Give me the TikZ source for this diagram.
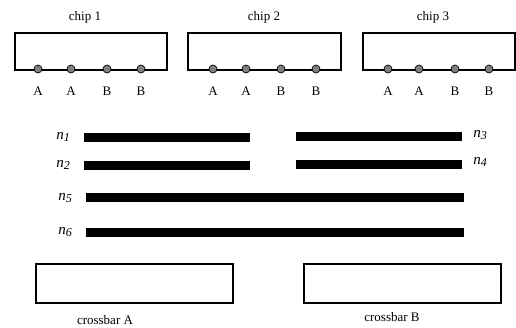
\documentclass[tikz,border=0pt]{standalone}
\usepackage{fontspec}
\setmainfont{Liberation Serif}
\begin{document}
\begin{tikzpicture}[x=1pt,y=-1pt,
  box/.style={draw=black,line width=2pt,inner sep=0pt,anchor=north west},
  pin/.style={circle,draw=black,line width=0.7pt,fill=gray,minimum size=8pt,inner sep=0pt},
  lbl/.style={font=\fontsize{13}{15}\selectfont,inner sep=0pt},
  bar/.style={fill=black,inner sep=0pt,minimum height=9pt,anchor=west},
  nlbl/.style={font=\fontsize{15}{17}\selectfont\itshape,inner sep=0pt}]
\useasboundingbox (0,0) rectangle (516,328);
% chips
\node[box,minimum width=152pt,minimum height=37pt] (c1) at (14,32) {};
\node[box,minimum width=153pt,minimum height=37pt] (c2) at (187,32) {};
\node[box,minimum width=152pt,minimum height=37pt] (c3) at (362,32) {};
\node[lbl] (t1) at (85,17) {chip 1};
\node[lbl] (t2) at (264,17) {chip 2};
\node[lbl] (t3) at (433,17) {chip 3};
% pins
\foreach \n/\x/\l in {p11/38/A,p12/71/A,p13/107/B,p14/141/B,
                      p21/213/A,p22/246/A,p23/281/B,p24/316/B,
                      p31/388/A,p32/419/A,p33/455/B,p34/489/B}{
  \node[pin] (\n) at (\x,69) {};
  \node[lbl] (\n l) at (\x,91) {\l};
}
% nets
\node[bar,minimum width=166pt] (n1) at (84,137.5) {};
\node[bar,minimum width=166pt] (n2) at (84,165.5) {};
\node[bar,minimum width=166pt] (n3) at (296,137) {};
\node[bar,minimum width=166pt] (n4) at (296,165) {};
\node[bar,minimum width=378pt] (n5) at (86,197.5) {};
\node[bar,minimum width=378pt] (n6) at (86,232.5) {};
\node[nlbl] (l1) at (63,137) {n\raisebox{-0.35ex}{\fontsize{12}{13}\selectfont 1}};
\node[nlbl] (l2) at (63,165) {n\raisebox{-0.35ex}{\fontsize{12}{13}\selectfont 2}};
\node[nlbl] (l5) at (65,198) {n\raisebox{-0.35ex}{\fontsize{12}{13}\selectfont 5}};
\node[nlbl] (l6) at (65,232) {n\raisebox{-0.35ex}{\fontsize{12}{13}\selectfont 6}};
\node[nlbl] (l3) at (480,135) {n\raisebox{-0.35ex}{\fontsize{12}{13}\selectfont 3}};
\node[nlbl] (l4) at (480,162) {n\raisebox{-0.35ex}{\fontsize{12}{13}\selectfont 4}};
% crossbars
\node[box,minimum width=197pt,minimum height=39pt] (xa) at (35,263) {};
\node[box,minimum width=197pt,minimum height=39pt] (xb) at (303,263) {};
\node[lbl] (la) at (105,320) {crossbar A};
\node[lbl] (lb) at (392,317) {crossbar B};
\end{tikzpicture}
\end{document}
